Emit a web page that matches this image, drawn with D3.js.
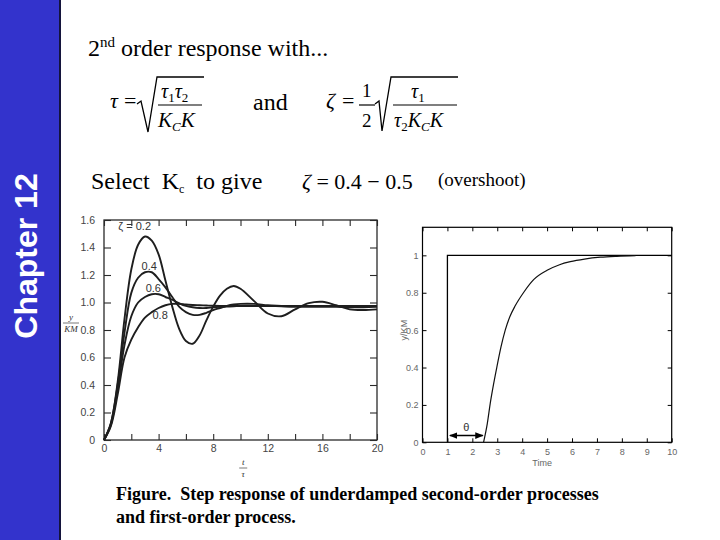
<!DOCTYPE html>
<html><head><meta charset="utf-8">
<script src="https://cdn.jsdelivr.net/npm/d3@7"></script>
<style>body{margin:0;background:#fff}svg{display:block}text{white-space:pre}</style>
</head><body>
<script>
// ---------- data ----------
const tGrid = [0,0.5,1,1.5,2,2.5,3,3.5,4,4.5,5,5.5,6,6.5,7,7.5,8,8.5,9,9.5,10,11,12,13,14,15,16,17,18,19,20];
const yZeta02 = [0,0.12,0.42,0.88,1.24,1.42,1.48,1.45,1.35,1.16,0.97,0.81,0.72,0.70,0.76,0.87,0.97,1.05,1.10,1.12,1.10,1.01,0.92,0.90,0.95,0.995,1.005,0.98,0.95,0.945,0.95];
const yZeta04 = [0,0.12,0.40,0.78,1.07,1.18,1.22,1.22,1.17,1.11,1.04,0.97,0.93,0.91,0.91,0.925,0.945,0.96,0.975,0.985,0.99,0.99,0.98,0.975,0.97,0.97,0.97,0.97,0.965,0.965,0.97];
const yZeta06 = [0,0.11,0.37,0.69,0.90,1.00,1.04,1.06,1.06,1.04,1.02,0.995,0.975,0.965,0.96,0.96,0.965,0.968,0.97,0.972,0.975,0.975,0.975,0.972,0.97,0.97,0.97,0.97,0.97,0.97,0.97];
const yZeta08 = [0,0.10,0.33,0.60,0.73,0.82,0.89,0.93,0.96,0.98,0.99,0.99,0.985,0.982,0.98,0.978,0.976,0.975,0.975,0.975,0.975,0.975,0.975,0.975,0.975,0.975,0.975,0.975,0.975,0.975,0.975];
const zetaLabels = ["\u03B6 = 0.2","0.4","0.6","0.8"];
const zetaLabelT = [1.05,2.75,3.05,3.55];
const zetaLabelY = [1.53,1.24,1.075,0.88];
const leftXTickLabels = [0,4,8,12,16,20];
const leftXMinor = [0,2,4,6,8,10,12,14,16,18,20];
const leftYTicks = [0,0.2,0.4,0.6,0.8,1.0,1.2,1.4,1.6];
const leftYTickLabels = ["0","0.2","0.4","0.6","0.8","1.0","1.2","1.4","1.6"];

const foptdT = [2.45,2.6,2.72,2.85,2.98,3.15,3.32,3.5,3.72,4.05,4.46,5.0,5.5,5.93,6.5,7.14,7.8,8.55];
const foptdY = [0,0.1,0.21,0.31,0.40,0.51,0.60,0.67,0.73,0.80,0.87,0.92,0.95,0.966,0.98,0.99,0.995,0.998];
const stepT = [1,1,10];
const stepY = [0,1,1];
const thetaT = [1.1,2.42];
const thetaY = 0.036;
const rightXTicks = [0,1,2,3,4,5,6,7,8,9,10];
const rightYTicks = [0,0.2,0.4,0.6,0.8,1];
const rightYTickLabels = ["0","0.2","0.4","0.6","0.8","1"];

// ---------- svg ----------
const W = 720, H = 540;
const svg = d3.select("body").append("svg").attr("width", W).attr("height", H);
const serif = "'Liberation Serif','Times New Roman',serif";
const sans = "'Liberation Sans',Arial,sans-serif";

// sidebar
svg.append("rect").attr("x",0).attr("y",0).attr("width",60).attr("height",H).attr("fill","#3333cc");
svg.append("line").attr("x1",60).attr("x2",60).attr("y1",0).attr("y2",H).attr("stroke","#14143c").attr("stroke-width",2);
svg.append("text").attr("transform","translate(37,256) rotate(-90)")
  .attr("text-anchor","middle").attr("fill","#fff").attr("font-family",sans)
  .attr("font-weight","bold").attr("font-size",32).text("Chapter 12");

// title
const t1 = svg.append("text").attr("x",88).attr("y",56).attr("font-family",serif).attr("font-size",24).attr("fill","#000");
t1.append("tspan").text("2");
t1.append("tspan").attr("dy",-9).attr("font-size",15).text("nd");
t1.append("tspan").attr("dy",9).text(" order response with...");

// tau formula
function it(x,y,size){return svg.append("text").attr("x",x).attr("y",y).attr("font-family",serif).attr("font-size",size).attr("fill","#000");}
it(110,108,22).attr("font-style","italic").text("\u03C4");
it(124,108,22).text("=");
svg.append("path").attr("d","M137,104 L141,101 L148,132 L157,77 L204,77").attr("fill","none").attr("stroke","#000").attr("stroke-width",1.3);
let n1 = it(161,98,20).attr("font-style","italic");
n1.append("tspan").text("\u03C4");
n1.append("tspan").attr("dy",4).attr("font-size",13).attr("font-style","normal").text("1");
n1.append("tspan").attr("dy",-4).text("\u03C4");
n1.append("tspan").attr("dy",4).attr("font-size",13).attr("font-style","normal").text("2");
svg.append("line").attr("x1",158).attr("x2",202).attr("y1",105).attr("y2",105).attr("stroke","#000").attr("stroke-width",1.2);
let d1 = it(158,127,21).attr("font-style","italic");
d1.append("tspan").text("K");
d1.append("tspan").attr("dy",4).attr("font-size",13).text("C");
d1.append("tspan").attr("dy",-4).text("K");

it(253,110,24).text("and");

// zeta formula
it(326,108,22).attr("font-style","italic").text("\u03B6");
it(342,108,22).text("=");
it(362,97,19).text("1");
svg.append("line").attr("x1",359).attr("x2",375).attr("y1",105).attr("y2",105).attr("stroke","#000").attr("stroke-width",1.2);
it(362,127,19).text("2");
svg.append("path").attr("d","M375,104 L379,101 L382,131 L391,77 L458,77").attr("fill","none").attr("stroke","#000").attr("stroke-width",1.3);
let n2 = it(411,98,20).attr("font-style","italic");
n2.append("tspan").text("\u03C4");
n2.append("tspan").attr("dy",4).attr("font-size",13).attr("font-style","normal").text("1");
svg.append("line").attr("x1",393).attr("x2",457).attr("y1",105).attr("y2",105).attr("stroke","#000").attr("stroke-width",1.2);
let d2 = it(394,127,20).attr("font-style","italic");
d2.append("tspan").text("\u03C4");
d2.append("tspan").attr("dy",4).attr("font-size",13).attr("font-style","normal").text("2");
d2.append("tspan").attr("dy",-4).text("K");
d2.append("tspan").attr("dy",4).attr("font-size",13).text("C");
d2.append("tspan").attr("dy",-4).text("K");

// select line
let s1 = it(91,189,24);
s1.append("tspan").text("Select  K");
s1.append("tspan").attr("dy",4).attr("font-size",12).text("c");
s1.append("tspan").attr("dy",-4).text("  to give");
let z1 = it(302,189,22);
z1.append("tspan").attr("font-style","italic").text("\u03B6");
z1.append("tspan").text(" = 0.4 \u2212 0.5");
it(438,186,19).text("(overshoot)");

// caption
it(116,500,18).attr("font-weight","bold").text("Figure.  Step response of underdamped second-order processes");
it(116,523,18).attr("font-weight","bold").text("and first-order process.");

// ---------- left chart ----------
const xL = d3.scaleLinear().domain([0,20]).range([104,377]);
const yL = d3.scaleLinear().domain([0,1.6]).range([440,220]);
const gL = svg.append("g");
const inkL = "#2a2a2a";
gL.append("rect").attr("x",xL(0)).attr("y",yL(1.6)).attr("width",xL(20)-xL(0)).attr("height",yL(0)-yL(1.6))
  .attr("fill","none").attr("stroke",inkL).attr("stroke-width",1.3);
const axB = gL.append("g").attr("transform",`translate(0,${yL(0)})`)
  .call(d3.axisBottom(xL).tickValues(leftXMinor).tickSize(-6).tickFormat(d => leftXTickLabels.includes(d) ? d : ""));
const axT = gL.append("g").attr("transform",`translate(0,${yL(1.6)})`)
  .call(d3.axisTop(xL).tickValues(leftXMinor).tickSize(-6).tickFormat(""));
const axLft = gL.append("g").attr("transform",`translate(${xL(0)},0)`)
  .call(d3.axisLeft(yL).tickValues(leftYTicks).tickSize(-7).tickFormat((d,i)=>leftYTickLabels[i]));
const axR = gL.append("g").attr("transform",`translate(${xL(20)},0)`)
  .call(d3.axisRight(yL).tickValues(leftYTicks).tickSize(-7).tickFormat(""));
[axB,axT,axLft,axR].forEach(a=>{
  a.select(".domain").remove();
  a.selectAll(".tick line").attr("stroke",inkL).attr("stroke-width",1.1);
  a.selectAll("text").attr("font-family",sans).attr("font-size",10.5).attr("fill","#444");
});
axB.selectAll("text").attr("dy","0.9em");
axLft.selectAll("text").attr("x",-9);

const series = [yZeta02,yZeta04,yZeta06,yZeta08];
const lineL = d3.line().x(d=>xL(d[0])).y(d=>yL(d[1])).curve(d3.curveCatmullRom.alpha(0.5));
series.forEach(ys=>{
  gL.append("path").datum(tGrid.map((t,i)=>[t,ys[i]])).attr("d",lineL)
    .attr("fill","none").attr("stroke","#1e1e1e").attr("stroke-width",1.9);
});
zetaLabels.forEach((s,i)=>{
  gL.append("text").attr("x",xL(zetaLabelT[i])).attr("y",yL(zetaLabelY[i]))
    .attr("font-family",sans).attr("font-size",11).attr("fill","#333").text(s);
});
gL.append("text").attr("x",71).attr("y",320).attr("text-anchor","middle").attr("font-family",serif).attr("font-style","italic").attr("font-size",9).attr("fill","#333").text("y");
gL.append("line").attr("x1",63).attr("x2",79).attr("y1",323).attr("y2",323).attr("stroke","#555").attr("stroke-width",0.8);
gL.append("text").attr("x",71).attr("y",332).attr("text-anchor","middle").attr("font-family",serif).attr("font-style","italic").attr("font-size",9).attr("fill","#333").text("KM");
gL.append("text").attr("x",xL(10.2)).attr("y",465).attr("text-anchor","middle").attr("font-family",serif).attr("font-style","italic").attr("font-size",9).attr("fill","#333").text("t");
gL.append("line").attr("x1",xL(10.2)-4).attr("x2",xL(10.2)+4).attr("y1",468).attr("y2",468).attr("stroke","#555").attr("stroke-width",0.8);
gL.append("text").attr("x",xL(10.2)).attr("y",477).attr("text-anchor","middle").attr("font-family",serif).attr("font-style","italic").attr("font-size",9).attr("fill","#333").text("\u03C4");

// ---------- right chart ----------
const xR = d3.scaleLinear().domain([0,10]).range([422.5,671.7]);
const yR = d3.scaleLinear().domain([0,1.15]).range([442.3,227.3]);
const gR = svg.append("g");
gR.append("rect").attr("x",xR(0)).attr("y",yR(1.15)).attr("width",xR(10)-xR(0)).attr("height",yR(0)-yR(1.15))
  .attr("fill","none").attr("stroke","#000").attr("stroke-width",1.2);
const rB = gR.append("g").attr("transform",`translate(0,${yR(0)})`).call(d3.axisBottom(xR).tickValues(rightXTicks).tickSize(-4).tickFormat(d=>d));
const rT = gR.append("g").attr("transform",`translate(0,${yR(1.15)})`).call(d3.axisTop(xR).tickValues(rightXTicks).tickSize(-4).tickFormat(""));
const rL = gR.append("g").attr("transform",`translate(${xR(0)},0)`).call(d3.axisLeft(yR).tickValues(rightYTicks).tickSize(-4).tickFormat((d,i)=>rightYTickLabels[i]));
const rR = gR.append("g").attr("transform",`translate(${xR(10)},0)`).call(d3.axisRight(yR).tickValues(rightYTicks).tickSize(-4).tickFormat(""));
[rB,rT,rL,rR].forEach(a=>{
  a.select(".domain").remove();
  a.selectAll(".tick line").attr("stroke","#000").attr("stroke-width",1);
  a.selectAll("text").attr("font-family",sans).attr("font-size",9).attr("fill","#666");
});
rB.selectAll("text").attr("dy","1.1em");
rL.selectAll("text").attr("x",-4);

const lineR = d3.line().x(d=>xR(d[0])).y(d=>yR(d[1]));
gR.append("path").datum(stepT.map((t,i)=>[t,stepY[i]])).attr("d",lineR).attr("fill","none").attr("stroke","#000").attr("stroke-width",1.3);
gR.append("path").datum(foptdT.map((t,i)=>[t,foptdY[i]])).attr("d",lineR.curve(d3.curveMonotoneX))
  .attr("fill","none").attr("stroke","#111").attr("stroke-width",1.2);

const defs = svg.append("defs");
defs.append("marker").attr("id","ah").attr("viewBox","0 0 10 10").attr("refX",9).attr("refY",5)
  .attr("markerWidth",6).attr("markerHeight",6).attr("orient","auto-start-reverse")
  .append("path").attr("d","M0,1 L10,5 L0,9 z").attr("fill","#000");
gR.append("line").attr("x1",xR(thetaT[0])).attr("x2",xR(thetaT[1])).attr("y1",yR(thetaY)).attr("y2",yR(thetaY))
  .attr("stroke","#000").attr("stroke-width",1.4).attr("marker-start","url(#ah)").attr("marker-end","url(#ah)");
gR.append("text").attr("x",xR((thetaT[0]+thetaT[1])/2)).attr("y",yR(thetaY)-5).attr("text-anchor","middle")
  .attr("font-family",sans).attr("font-size",11).attr("fill","#333").text("\u03B8");
gR.append("text").attr("x",xR(4.8)).attr("y",466).attr("text-anchor","middle").attr("font-family",sans).attr("font-size",9).attr("fill","#666").text("Time");
gR.append("text").attr("transform",`translate(407,${yR(0.6)}) rotate(-90)`).attr("text-anchor","middle").attr("font-family",sans).attr("font-size",9).attr("fill","#666").text("y/KM");
</script>
</body></html>
